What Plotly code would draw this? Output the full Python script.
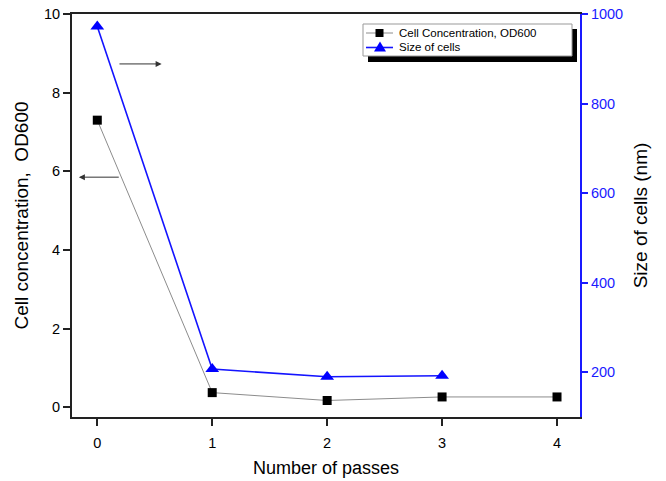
import plotly.graph_objects as go

passes_conc = [0, 1, 2, 3, 4]
cell_conc = [7.3, 0.37, 0.17, 0.26, 0.26]
passes_size = [0, 1, 2, 3]
cell_size = [972, 207, 190, 192]
legend_names = ["Cell Concentration, OD600", "Size of cells"]

FONT = "Liberation Sans, Arial, sans-serif"
W, H = 666, 481
L, R, T, B = 72, 86, 14, 64
PW, PH = W - L - R, H - T - B


def px(x):
    return (x - L) / PW


def py(y):
    return (H - B - y) / PH


fig = go.Figure()
fig.add_trace(go.Scatter(
    x=passes_conc, y=cell_conc, name=legend_names[0],
    mode="lines+markers", line=dict(color="#8c8c8c", width=1),
    marker=dict(symbol="square", size=9, color="black"), yaxis="y"))
fig.add_trace(go.Scatter(
    x=passes_size, y=cell_size, name=legend_names[1],
    mode="lines+markers", line=dict(color="#1414ff", width=1.6),
    marker=dict(symbol="triangle-up", size=12, color="#0000ff"), yaxis="y2"))

fig.update_layout(
    width=W, height=H,
    margin=dict(l=L, r=R, t=T, b=B, autoexpand=False),
    paper_bgcolor="white", plot_bgcolor="white",
    font=dict(family=FONT, size=14.5, color="black"),
    showlegend=False,
    xaxis=dict(range=[-0.22, 4.2], tickvals=[0, 1, 2, 3, 4],
               showgrid=False, zeroline=False, showline=True,
               linecolor="#222", linewidth=2, mirror=True, automargin=False,
               ticks="outside", ticklen=7, tickwidth=1.5, tickcolor="#222",
               ticklabelstandoff=5,
               title=dict(text="Number of passes", font=dict(size=18), standoff=11)),
    yaxis=dict(range=[-0.25, 10], tickvals=[0, 2, 4, 6, 8, 10],
               showgrid=False, zeroline=False, showline=True,
               linecolor="#222", linewidth=2, automargin=False,
               ticks="outside", ticklen=7, tickwidth=1.5, tickcolor="#222",
               title=dict(text="Cell concentration,  OD600", font=dict(size=19), standoff=10)),
    yaxis2=dict(range=[100, 1000], tickvals=[200, 400, 600, 800, 1000],
                overlaying="y", side="right", automargin=False,
                showgrid=False, zeroline=False, showline=True,
                linecolor="#1a1aff", linewidth=2,
                ticks="outside", ticklen=6, tickwidth=1.5, tickcolor="#1a1aff",
                tickfont=dict(color="#1a1aff", size=14.5),
                title=dict(text="Size of cells (nm)", font=dict(size=19, color="black"), standoff=12)),
)

# custom legend (box with drop shadow)
fig.add_shape(type="rect", xref="paper", yref="paper",
              x0=px(368), x1=px(577), y0=py(62), y1=py(29),
              fillcolor="black", line=dict(width=0), layer="above")
fig.add_shape(type="rect", xref="paper", yref="paper",
              x0=px(363), x1=px(572), y0=py(56), y1=py(24),
              fillcolor="white", line=dict(color="#999999", width=1), layer="above")
rows = [33, 47.5]
styles = [("#8c8c8c", 1, "black", "square"), ("#1414ff", 1.6, "#0000ff", "tri")]
for name, ry, (lc, lw, mc, sym) in zip(legend_names, rows, styles):
    fig.add_shape(type="line", xref="paper", yref="paper",
                  x0=px(366), x1=px(393), y0=py(ry), y1=py(ry),
                  line=dict(color=lc, width=lw), layer="above")
    if sym == "square":
        fig.add_shape(type="rect", xref="paper", yref="paper",
                      x0=px(375.5), x1=px(383.5), y0=py(ry + 4), y1=py(ry - 4),
                      fillcolor=mc, line=dict(width=0), layer="above")
    else:
        path = "M {} {} L {} {} L {} {} Z".format(
            px(374), py(ry + 4), px(386), py(ry + 4), px(380), py(ry - 6))
        fig.add_shape(type="path", xref="paper", yref="paper", path=path,
                      fillcolor=mc, line=dict(width=0), layer="above")
    fig.add_annotation(x=px(397), y=py(ry), xref="paper", yref="paper",
                       text=name, showarrow=False, xanchor="left", yanchor="middle",
                       font=dict(size=11.5, family=FONT, color="black"))

# arrows indicating axes
fig.add_annotation(x=0.56, y=8.73, ax=0.18, ay=8.73, xref="x", yref="y",
                   axref="x", ayref="y", text="", showarrow=True,
                   arrowhead=2, arrowsize=1.2, arrowwidth=1, arrowcolor="#333")
fig.add_annotation(x=-0.16, y=5.85, ax=0.2, ay=5.85, xref="x", yref="y",
                   axref="x", ayref="y", text="", showarrow=True,
                   arrowhead=2, arrowsize=1.2, arrowwidth=1, arrowcolor="#333")

fig.write_html("out.html")
